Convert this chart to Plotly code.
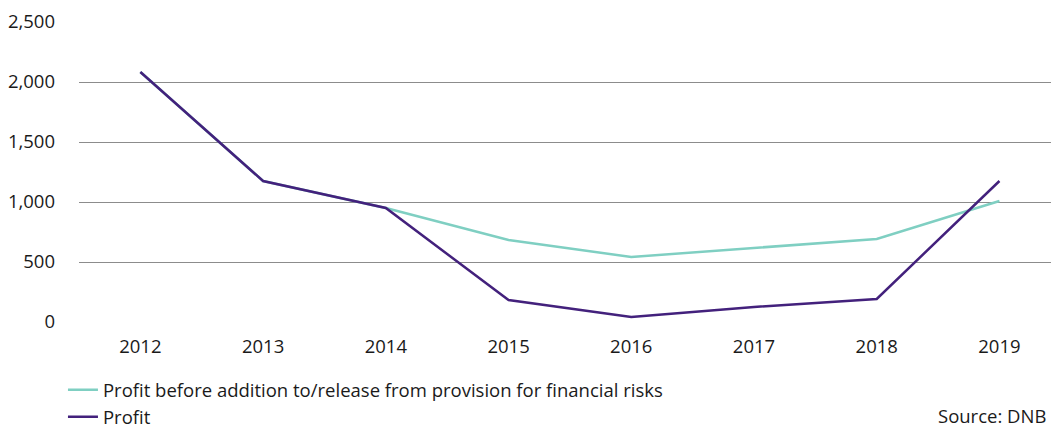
import plotly.graph_objects as go

years = ["2012", "2013", "2014", "2015", "2016", "2017", "2018", "2019"]
profit_before = [2083, 1175, 950, 683, 542, 617, 692, 1008]
profit = [2083, 1175, 950, 183, 42, 125, 192, 1175]

teal = "#7fcfc2"
purple = "#43217c"
font = "Open Sans"
text_col = "#1a1a1a"
fs = 18.5

fig = go.Figure()
fig.add_trace(go.Scatter(x=years, y=profit_before, mode="lines",
                         name="Profit before addition to/release from provision for financial risks",
                         line=dict(color=teal, width=2.5)))
fig.add_trace(go.Scatter(x=years, y=profit, mode="lines", name="Profit",
                         line=dict(color=purple, width=2.5)))

fig.update_layout(
    width=1051, height=430,
    margin=dict(l=79, r=0, t=22, b=108, pad=0, autoexpand=False),
    paper_bgcolor="white", plot_bgcolor="white",
    font=dict(family=font, size=fs, color=text_col),
    showlegend=True,
    legend=dict(orientation="v", x=-0.0165, y=-0.164, xanchor="left", yanchor="top",
                font=dict(family=font, size=fs, color=text_col),
                tracegroupgap=0, itemwidth=30, bgcolor="rgba(0,0,0,0)",
                borderwidth=0),
    xaxis=dict(type="category", range=[-0.5, 7.42], showgrid=False, zeroline=False,
               showline=False, ticks="", tickfont=dict(size=fs), ticklabelstandoff=11),
    yaxis=dict(range=[0, 2500], dtick=500, tickformat=",", showgrid=True,
               gridcolor="#8c8c8c", gridwidth=1.2, zeroline=False, showline=False,
               ticks="", tickfont=dict(size=fs), ticklabelstandoff=23),
    annotations=[dict(text="Source: DNB", xref="paper", yref="paper", x=1, y=-0.36,
                      xanchor="right", yanchor="bottom", showarrow=False, xshift=-3,
                      font=dict(family=font, size=fs, color=text_col))],
)

fig.write_html("out.html")
